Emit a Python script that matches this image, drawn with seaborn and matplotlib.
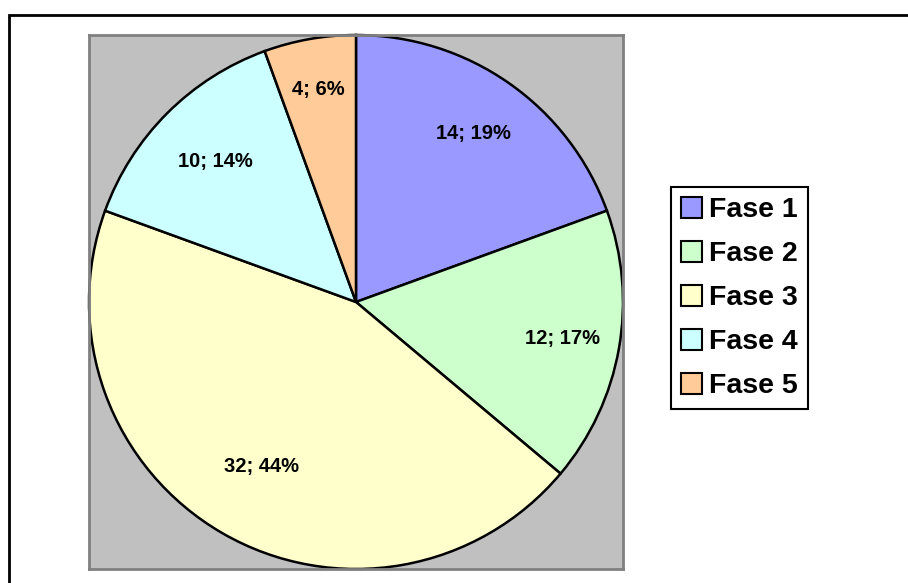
import matplotlib
matplotlib.use("Agg")
import numpy as np
import matplotlib.pyplot as plt
from matplotlib.patches import Patch, Rectangle
import seaborn as sns

# Phase counts, shown clockwise from 12 o'clock
categories = ["Fase 1", "Fase 2", "Fase 3", "Fase 4", "Fase 5"]
counts = [14, 12, 32, 10, 4]
colors = ["#9999FF", "#CCFFCC", "#FFFFCC", "#CCFFFF", "#FFCC99"]

# radial position of each data label (fraction of the radius)
label_dist = [0.77, 0.785, 0.71, 0.745, 0.81]

sns.set_theme(style="white")
plt.rcParams["font.family"] = ["Liberation Sans", "DejaVu Sans"]
plt.rcParams["text.color"] = "black"

W, H = 908, 583
fig = plt.figure(figsize=(W / 100, H / 100), dpi=100)
fig.patch.set_facecolor("white")

# Chart-area border (runs off the right and bottom edges)
fig.add_artist(Rectangle((9 / W, -0.1), 1.2, 1 - 15 / H + 0.1,
                         transform=fig.transFigure, fill=False,
                         edgecolor="black", linewidth=2.0))

# Plot area: grey square holding the pie
ax = fig.add_axes([89 / W, (H - 569) / H, 534 / W, 534 / H])

total = sum(counts)

def fmt(pct):
    val = int(round(pct * total / 100.0))
    return f"{val}; {pct:.0f}%"

wedges, texts, autotexts = ax.pie(
    counts, colors=colors, startangle=90, counterclock=False,
    radius=1.0, autopct=fmt, pctdistance=0.76, frame=True,
    wedgeprops=dict(edgecolor="black", linewidth=1.8),
    textprops=dict(fontsize=14.5, fontweight="bold", color="black"),
)
for w, t, d in zip(wedges, autotexts, label_dist):
    ang = np.deg2rad((w.theta1 + w.theta2) / 2.0)
    t.set_position((d * np.cos(ang), d * np.sin(ang)))

ax.set_facecolor("#C0C0C0")
for sp in ax.spines.values():
    sp.set_visible(True)
    sp.set_edgecolor("#808080")
    sp.set_linewidth(2.0)
ax.set_xlim(-1.0, 1.0)
ax.set_ylim(-1.0, 1.0)
ax.set_aspect("equal")
ax.set_xticks([])
ax.set_yticks([])

handles = [Patch(facecolor=c, edgecolor="black", linewidth=1.5) for c in colors]
leg = fig.legend(handles, categories, loc="upper left",
                 bbox_to_anchor=(671 / W, 1 - 187 / H),
                 prop=dict(size=20.5, weight="bold"),
                 frameon=True, fancybox=False, framealpha=1.0,
                 edgecolor="black", handlelength=0.75, handleheight=0.75,
                 handletextpad=0.25, labelspacing=0.62, borderpad=0.35,
                 borderaxespad=0.0)
for t in leg.get_texts():
    t.set_color("black")
leg.get_frame().set_linewidth(1.5)

fig.savefig("out.png", dpi=100)
